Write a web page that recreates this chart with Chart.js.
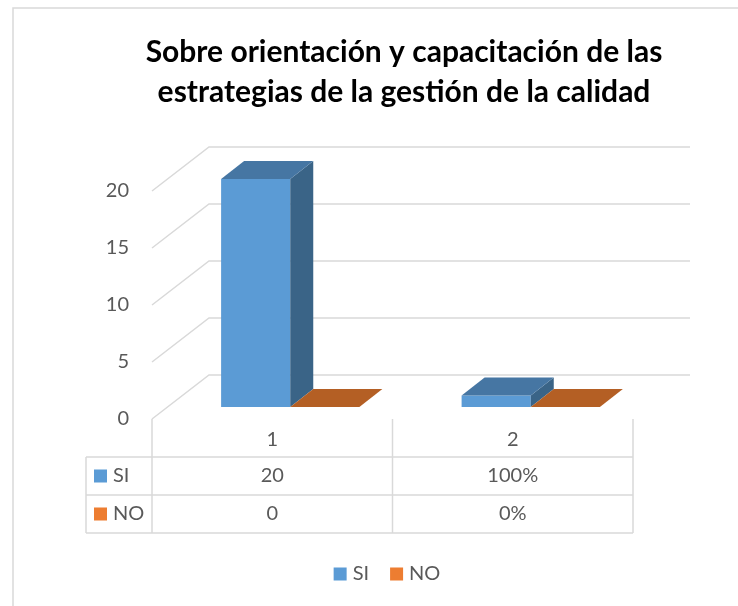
<!DOCTYPE html>
<html>
<head>
<meta charset="utf-8">
<script src="https://cdn.jsdelivr.net/npm/chart.js@4.4.1/dist/chart.umd.min.js"></script>
<style>
html,body{margin:0;padding:0;background:#fff;}
#wrap{width:738px;height:606px;position:relative;}
</style>
</head>
<body>
<div id="wrap"><canvas id="c"></canvas></div>
<script>
// ---- data ----
const titleLines = ['Sobre orientación y capacitación de las', 'estrategias de la gestión de la calidad'];
const categories = ['1', '2'];
const seriesNames = ['SI', 'NO'];
const siValues = [20, 1];
const noValues = [0, 0];
const yTickValues = [0, 5, 10, 15, 20];
const tableFormats = ['number', 'percent'];

// ---- styles ----
const FONT = 'Lato';
const TEXT = '#595959';
const GRID = '#D9D9D9';
const frontColors = ['#5B9BD5', '#ED7D31'];
const topColors = ['#4676A3', '#B45F24'];
const sideColors = ['#3A6487', '#8F4A1B'];
const WALL_DX = 57, WALL_DY = 44;  // depth of the 3D box
const BAR_DX = 18, BAR_DY = 12;    // bar plane behind the front plane
const DEPTH_X = 23, DEPTH_Y = 18;  // bar thickness
const TABLE_LEFT = 86, ROW_H = 38, TABLE_TOP = 457;
const LEGEND_CX = 387, LEGEND_CY = 574;
const TITLE_CX = 404, TITLE_Y = 52, TITLE_LH = 40;

function fmt(v, f) { return f === 'percent' ? Math.round(v * 100) + '%' : String(v); }

const plugin3d = {
  id: 'p3d',
  beforeDraw(chart) {
    const ctx = chart.ctx, a = chart.chartArea, y = chart.scales.y;
    ctx.save();
    // chart border
    ctx.strokeStyle = GRID; ctx.lineWidth = 1.5;
    ctx.beginPath();
    ctx.moveTo(13, chart.height); ctx.lineTo(13, 8); ctx.lineTo(chart.width, 8);
    ctx.stroke();
    // title
    ctx.fillStyle = '#000000';
    ctx.font = 'bold 30px ' + FONT;
    ctx.textAlign = 'center'; ctx.textBaseline = 'middle';
    titleLines.forEach((s, i) => ctx.fillText(s, TITLE_CX, TITLE_Y + i * TITLE_LH));
    // 3D walls grid
    ctx.lineWidth = 1.5;
    y.ticks.forEach(t => {
      const py = y.getPixelForValue(t.value);
      ctx.beginPath();
      ctx.moveTo(a.left, py);
      ctx.lineTo(a.left + WALL_DX, py - WALL_DY);
      ctx.lineTo(a.right + WALL_DX, py - WALL_DY);
      ctx.stroke();
    });
    ctx.restore();
  },
  beforeDatasetsDraw(chart) {
    chart.ctx.save();
    chart.ctx.translate(BAR_DX, -BAR_DY);
  },
  afterDatasetsDraw(chart) {
    const ctx = chart.ctx;
    chart.data.datasets.forEach((ds, di) => {
      const meta = chart.getDatasetMeta(di);
      meta.data.forEach(el => {
        const l = el.x - el.width / 2, r = el.x + el.width / 2, t = el.y, b = el.base;
        if (b - t > 0.5) {
          ctx.fillStyle = sideColors[di];
          ctx.beginPath();
          ctx.moveTo(r, t); ctx.lineTo(r + DEPTH_X, t - DEPTH_Y);
          ctx.lineTo(r + DEPTH_X, b - DEPTH_Y); ctx.lineTo(r, b);
          ctx.closePath(); ctx.fill();
        }
        ctx.fillStyle = topColors[di];
        ctx.beginPath();
        ctx.moveTo(l, t); ctx.lineTo(r, t);
        ctx.lineTo(r + DEPTH_X, t - DEPTH_Y); ctx.lineTo(l + DEPTH_X, t - DEPTH_Y);
        ctx.closePath(); ctx.fill();
      });
    });
    ctx.restore();
  },
  afterDraw(chart) {
    const ctx = chart.ctx, a = chart.chartArea, x = chart.scales.x;
    const n = categories.length, colW = (a.right - a.left) / n;
    const bottom = TABLE_TOP + ROW_H * seriesNames.length;
    ctx.save();
    ctx.strokeStyle = GRID; ctx.lineWidth = 1.5;
    ctx.beginPath();
    for (let i = 0; i <= n; i++) {
      const px = a.left + i * colW;
      ctx.moveTo(px, a.bottom); ctx.lineTo(px, bottom);
    }
    for (let j = 0; j <= seriesNames.length; j++) {
      const py = TABLE_TOP + j * ROW_H;
      ctx.moveTo(TABLE_LEFT, py); ctx.lineTo(a.right, py);
    }
    ctx.moveTo(TABLE_LEFT, TABLE_TOP); ctx.lineTo(TABLE_LEFT, bottom);
    ctx.stroke();

    ctx.font = '20px ' + FONT;
    ctx.textBaseline = 'middle';
    chart.data.datasets.forEach((ds, j) => {
      const cy = TABLE_TOP + j * ROW_H + ROW_H / 2;
      ctx.fillStyle = frontColors[j];
      ctx.fillRect(94, cy - 6.5, 13, 13);
      ctx.fillStyle = TEXT; ctx.textAlign = 'left';
      ctx.fillText(ds.label, 113, cy);
      ctx.textAlign = 'center';
      ds.data.forEach((v, i) => {
        ctx.fillText(fmt(v, tableFormats[i]), x.getPixelForValue(i), cy);
      });
    });

    // legend
    const gap = 6, itemGap = 21, box = 13;
    const widths = chart.data.datasets.map(ds => box + gap + ctx.measureText(ds.label).width);
    const total = widths.reduce((s, w) => s + w, 0) + itemGap * (widths.length - 1);
    let lx = LEGEND_CX - total / 2;
    ctx.textAlign = 'left';
    chart.data.datasets.forEach((ds, j) => {
      ctx.fillStyle = frontColors[j];
      ctx.fillRect(lx, LEGEND_CY - 6.5, box, box);
      ctx.fillStyle = TEXT;
      ctx.fillText(ds.label, lx + box + gap, LEGEND_CY);
      lx += widths[j] + itemGap;
    });
    ctx.restore();
  }
};

new Chart(document.getElementById('c'), {
  type: 'bar',
  data: {
    labels: categories,
    datasets: [
      { label: seriesNames[0], data: siValues, backgroundColor: frontColors[0] },
      { label: seriesNames[1], data: noValues, backgroundColor: frontColors[1] }
    ]
  },
  options: {
    responsive: true,
    maintainAspectRatio: false,
    animation: false,
    events: [],
    datasets: { bar: { barPercentage: 1, categoryPercentage: 0.575, clip: false, borderWidth: 0 } },
    layout: { padding: { left: 70, right: 105, top: 191, bottom: 0 } },
    plugins: {
      legend: { display: false },
      tooltip: { enabled: false },
      title: { display: false }
    },
    scales: {
      x: {
        grid: { display: false, drawTicks: false },
        border: { display: false },
        ticks: { color: TEXT, font: { family: FONT, size: 20 }, padding: 9 },
        afterFit: s => { s.height = 187; }
      },
      y: {
        min: 0, max: 20,
        grid: { display: false, drawTicks: false },
        border: { display: false },
        ticks: { color: TEXT, font: { family: FONT, size: 20 }, padding: 23 },
        afterBuildTicks: s => { s.ticks = yTickValues.map(v => ({ value: v })); },
        afterFit: s => { s.width = 82; }
      }
    }
  },
  plugins: [plugin3d]
});
</script>
</body>
</html>
